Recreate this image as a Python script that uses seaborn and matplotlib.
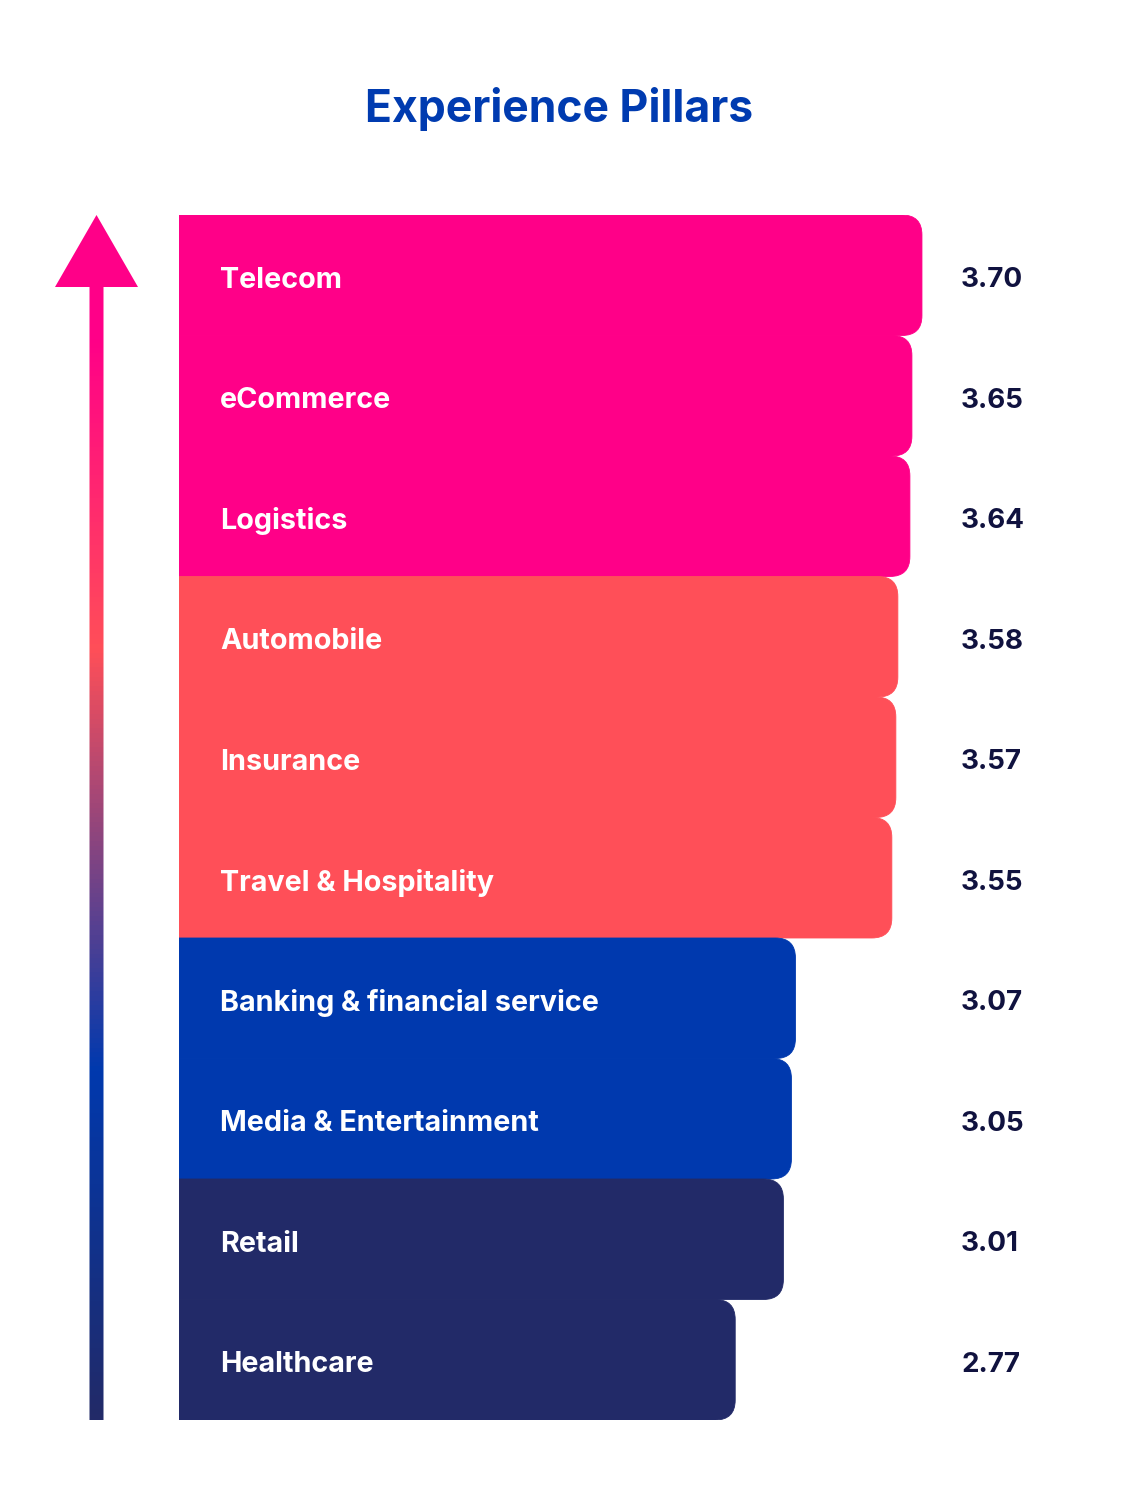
import numpy as np
import pandas as pd
import seaborn as sns
import matplotlib.pyplot as plt
from matplotlib.patches import FancyBboxPatch, Polygon
from matplotlib.colors import LinearSegmentedColormap

industries = ["Telecom", "eCommerce", "Logistics", "Automobile", "Insurance",
              "Travel & Hospitality", "Banking & financial service",
              "Media & Entertainment", "Retail", "Healthcare"]
scores = [3.70, 3.65, 3.64, 3.58, 3.57, 3.55, 3.07, 3.05, 3.01, 2.77]
tiers = ["top", "top", "top", "high", "high", "high", "mid", "mid", "low", "low"]

palette = {"top": "#FF0088", "high": "#FF4F58", "mid": "#0039AE", "low": "#222A68"}

W, H = 1122, 1502
sns.set_theme(style="white")
plt.rcParams["font.family"] = ["Inter", "DejaVu Sans"]

fig = plt.figure(figsize=(W / 100, H / 100), dpi=100)
fig.patch.set_facecolor("white")

# bar area: x=0 at pixel 179, bars from y=215 to y=1420
x0_px, top_px, bot_px = 179, 215, 1420
px_per_unit = 200.8
ax = fig.add_axes([x0_px / W, (H - bot_px) / H, (W - x0_px) / W, (bot_px - top_px) / H])

df = pd.DataFrame({"industry": industries, "score": scores, "tier": tiers})
sns.barplot(data=df, x="score", y="industry", hue="tier", palette=palette,
            saturation=1, orient="h", width=1.0, dodge=False, legend=False, ax=ax)
ax.set_xlim(0, (W - x0_px) / px_per_unit)
ax.set_ylim(len(industries) - 0.5, -0.5)
ax.axis("off")

# swap plain bars for bars with rounded right corners
y_px_per_unit = (bot_px - top_px) / len(industries)
aspect = px_per_unit / y_px_per_unit
r = 20 / px_per_unit
bars = [p for p in ax.patches if p.get_width() > 0]
for p in bars:
    x, y, w, h = p.get_x(), p.get_y(), p.get_width(), p.get_height()
    fc = p.get_facecolor()
    p.remove()
    ax.add_patch(FancyBboxPatch((x - 0.3, y), w + 0.3, h,
                                boxstyle=f"round,pad=0,rounding_size={r}",
                                mutation_aspect=aspect, fc=fc, ec=fc, lw=0.6))

for i, (name, val) in enumerate(zip(industries, scores)):
    ax.text(41 / px_per_unit, i + 0.04, name, va="center", ha="left",
            color="white", fontsize=20.7, fontweight="bold")
    ax.text(782 / px_per_unit, i + 0.04, f"{val:.2f}", va="center", ha="left",
            color="#10123F", fontsize=20, fontweight="bold")

# gradient arrow on the left
arr = fig.add_axes([0, 0, 1, 1], zorder=-1)
arr.set_xlim(0, W)
arr.set_ylim(H, 0)
arr.axis("off")
cmap = LinearSegmentedColormap.from_list(
    "pillar", [(0.0, "#222A68"), (0.29, "#0039AE"), (0.64, "#FF4F58"),
               (0.90, "#FF0088"), (1.0, "#FF0088")])
grad = np.linspace(1, 0, 400).reshape(-1, 1)
img = arr.imshow(grad, extent=[50, 145, bot_px, top_px], aspect="auto",
                 cmap=cmap, origin="upper", interpolation="bilinear")
cx, half = 96.5, 7
shape = Polygon([(cx - half, bot_px), (cx + half, bot_px), (cx + half, 287),
                 (138, 287), (cx, top_px), (55, 287), (cx - half, 287)],
                closed=True, fc="none", ec="none", transform=arr.transData)
arr.add_patch(shape)
img.set_clip_path(shape)

fig.text(559.5 / W, 1 - 109 / H, "Experience Pillars", ha="center", va="center",
         color="#003BB0", fontsize=32, fontweight="bold")

fig.savefig("out.png", dpi=100, facecolor="white")
